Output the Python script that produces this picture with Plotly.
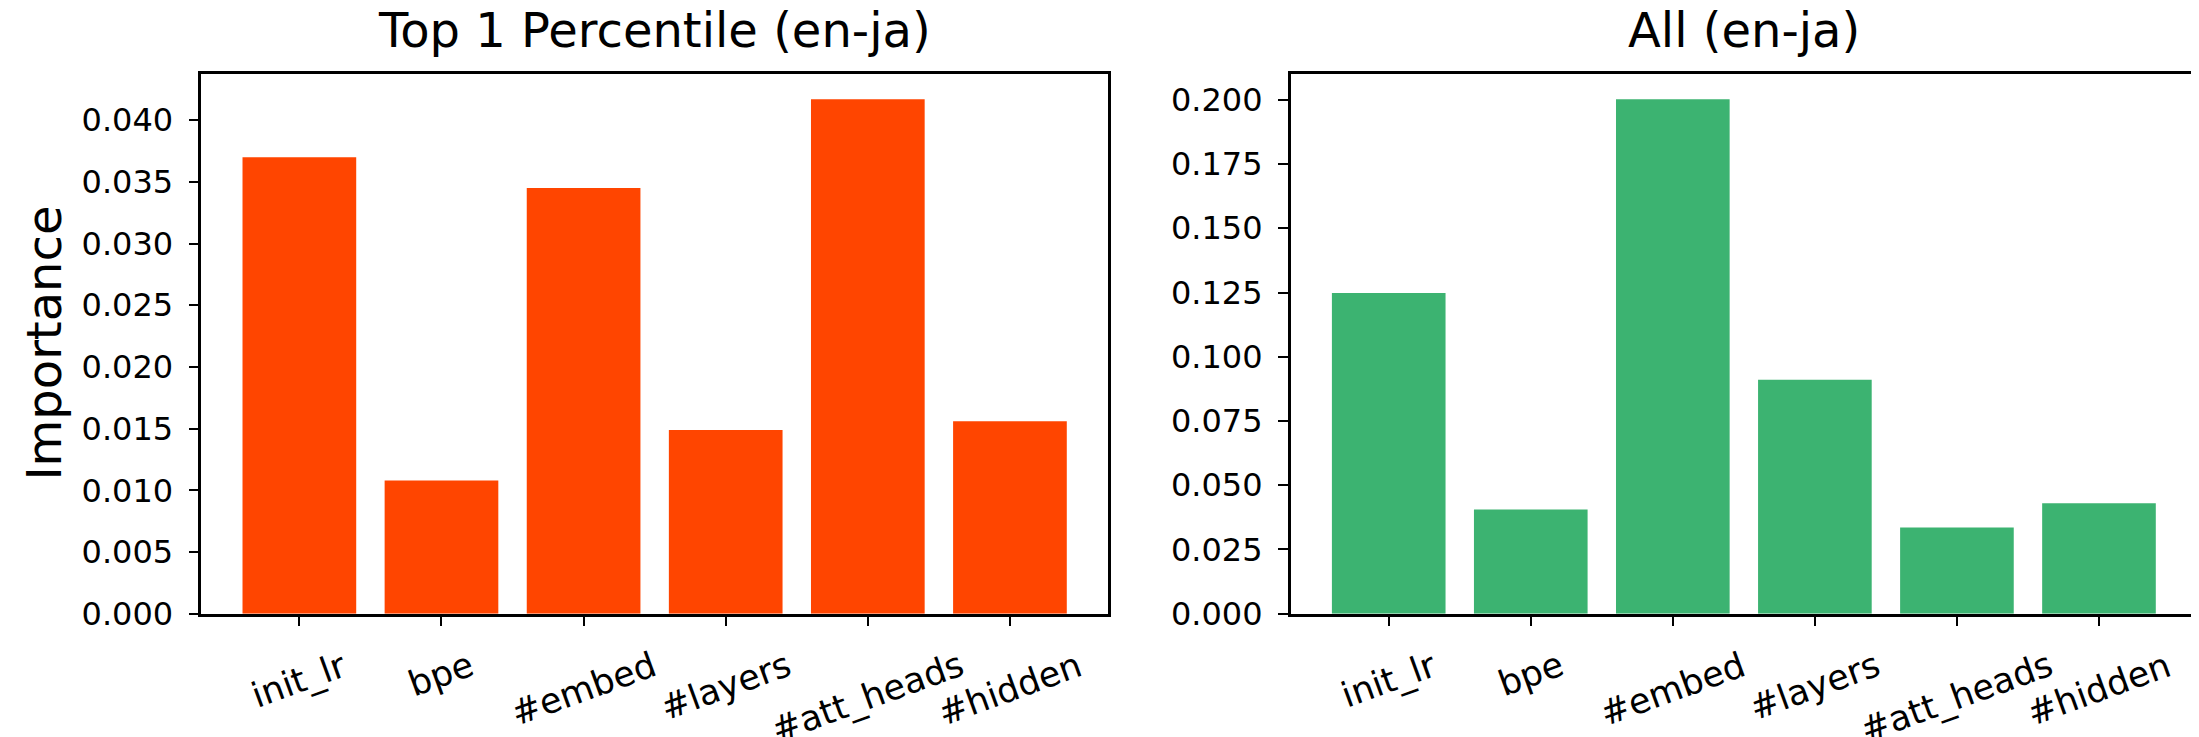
import plotly.graph_objects as go

categories = ["init_lr", "bpe", "#embed", "#layers", "#att_heads", "#hidden"]
top1_values = [0.0370, 0.0108, 0.0345, 0.0149, 0.0417, 0.0156]
all_values = [0.1248, 0.0405, 0.2002, 0.0910, 0.0335, 0.0430]
y_ticks_left = [0.000, 0.005, 0.010, 0.015, 0.020, 0.025, 0.030, 0.035, 0.040]
y_ticks_right = [0.000, 0.025, 0.050, 0.075, 0.100, 0.125, 0.150, 0.175, 0.200]
titles = ["Top 1 Percentile (en-ja)", "All (en-ja)"]
y_label = "Importance"

W, H = 2199, 737
FONT = "DejaVu Sans"
dom_left = [193.3 / W, 1100 / W]
dom_right = [1282.7 / W, 2189 / W]
dom_y = [1 - 621.7 / H, 1 - 67.3 / H]

fig = go.Figure()
fig.add_trace(go.Bar(x=categories, y=top1_values, marker=dict(color="#FF4500", line=dict(width=0)),
                     xaxis="x", yaxis="y", showlegend=False))
fig.add_trace(go.Bar(x=categories, y=all_values, marker=dict(color="#3CB371", line=dict(width=0)),
                     xaxis="x2", yaxis="y2", showlegend=False))

axis_common = dict(showline=True, linecolor="black", linewidth=2.5, mirror=True,
                   ticks="outside", ticklen=10, tickwidth=2, tickcolor="black",
                   showgrid=False, zeroline=False)

fig.update_layout(
    width=W, height=H,
    margin=dict(l=0, r=0, t=0, b=0),
    paper_bgcolor="white", plot_bgcolor="white",
    font=dict(family=FONT, color="black"),
    bargap=0.2,
    xaxis=dict(domain=dom_left, anchor="y", range=[-0.69, 5.69], showticklabels=False, **axis_common),
    xaxis2=dict(domain=dom_right, anchor="y2", range=[-0.69, 5.69], showticklabels=False, **axis_common),
    yaxis=dict(domain=dom_y, anchor="x", range=[0, max(top1_values) * 1.05], tickvals=y_ticks_left,
               tickformat=".3f", tickfont=dict(size=32, family=FONT), ticklabelstandoff=9, **axis_common),
    yaxis2=dict(domain=dom_y, anchor="x2", range=[0, max(all_values) * 1.05], tickvals=y_ticks_right,
                tickformat=".3f", tickfont=dict(size=32, family=FONT), ticklabelstandoff=9, **axis_common),
)

annotations = []
for xref, dom, title in [("x", dom_left, titles[0]), ("x2", dom_right, titles[1])]:
    for c in categories:
        annotations.append(dict(x=c, xref=xref, y=dom_y[0], yref="paper", text=c, showarrow=False,
                                textangle=-20, xanchor="center", yanchor="top", yshift=-28,
                                font=dict(size=35, family=FONT, color="black")))
    annotations.append(dict(x=(dom[0] + dom[1]) / 2, xref="paper", y=dom_y[1], yref="paper", text=title,
                            showarrow=False, xanchor="center", yanchor="bottom", yshift=14,
                            font=dict(size=48, family=FONT, color="black")))
annotations.append(dict(x=36 / W, xref="paper", y=(dom_y[0] + dom_y[1]) / 2, yref="paper", text=y_label,
                        showarrow=False, textangle=-90, xanchor="center", yanchor="middle",
                        font=dict(size=48, family=FONT, color="black")))
fig.update_layout(annotations=annotations)

fig.write_html("out.html")
